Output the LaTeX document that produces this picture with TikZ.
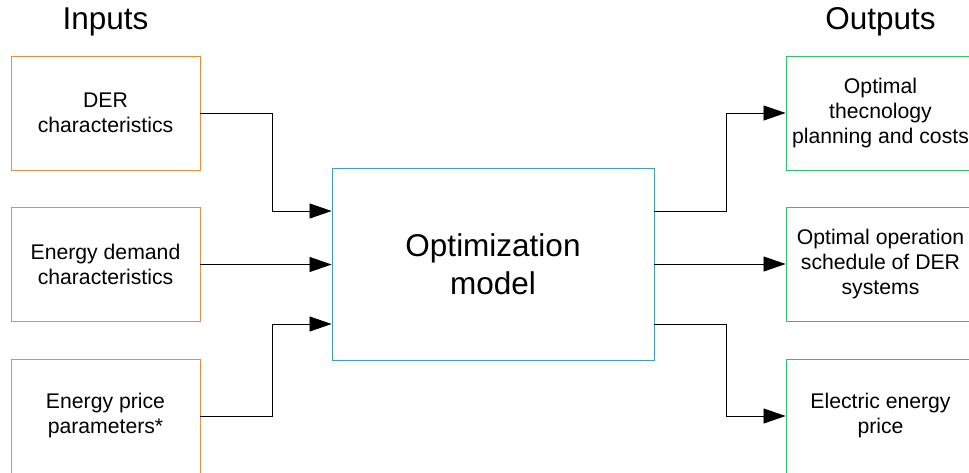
\documentclass[tikz,border=0pt]{standalone}
\usepackage{fontspec}
\setmainfont{Liberation Sans}
\usetikzlibrary{arrows.meta}
\definecolor{inorange}{RGB}{240,140,60}
\definecolor{outgreen}{RGB}{40,200,100}
\definecolor{modelblue}{RGB}{60,160,190}
\begin{document}
\begin{tikzpicture}[x=1pt,y=-1pt,
  boxtext/.style={inner sep=0pt,align=center,font=\fontsize{21.2pt}{25pt}\selectfont},
  inbox/.style={boxtext,draw=inorange,line width=0.9pt,minimum width=189pt,minimum height=114pt},
  outbox/.style={boxtext,draw=outgreen,line width=0.9pt,minimum width=189pt,minimum height=114pt},
  modelbox/.style={draw=modelblue,line width=0.9pt,minimum width=322pt,minimum height=192pt,
    inner sep=0pt,align=center,font=\fontsize{31.5pt}{38pt}\selectfont},
  title/.style={font=\fontsize{31.5pt}{36pt}\selectfont,inner sep=0pt},
  link/.style={draw=black,line width=0.8pt,-{Triangle[length=22pt,width=15pt]}}]
\useasboundingbox (0,0) rectangle (969,472);
\begin{scope}
\clip (0,0) rectangle (969,472);

% titles
\node[title] (tin) at (105.5,22) {Inputs};
\node[title] (tout) at (880.5,22) {Outputs};

% input boxes
\node[inbox] (der) at (105.5,113) {DER\\characteristics};
\node[inbox] (dem) at (105.5,264.5) {Energy demand\\characteristics};
\node[inbox] (price) at (105.5,416) {Energy price\\parameters*};

% model
\node[modelbox] (model) at (493,264) {Optimization\\model};

% output boxes
\node[outbox] (plan) at (880.5,113) {Optimal\\thecnology\\planning and costs};
\node[outbox] (oper) at (880.5,264.5) {Optimal operation\\schedule of DER\\systems};
\node[outbox] (elec) at (880.5,416) {Electric energy\\price};

% attachment points on the model's sides
\coordinate (m1) at (model.west |- 0,211);
\coordinate (m3) at (model.west |- 0,324);
\coordinate (o1) at (model.east |- 0,211);
\coordinate (o3) at (model.east |- 0,324);

% connectors into the model
\draw[link] (der.east) -| (272,211) -- (m1);
\draw[link] (dem.east) -- (dem.east -| model.west);
\draw[link] (price.east) -| (272,324) -- (m3);

% connectors out of the model
\draw[link] (o1) -| (726,113) -- (plan.west);
\draw[link] (model.east) -- (model.east -| oper.west);
\draw[link] (o3) -| (726,416) -- (elec.west);
\end{scope}
\end{tikzpicture}
\end{document}
